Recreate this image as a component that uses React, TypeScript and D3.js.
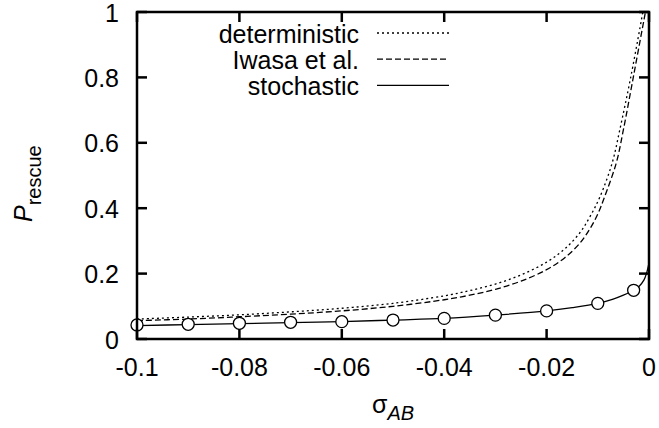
import React from 'react';
import * as d3 from 'd3';

// values
const detSigma = [-0.1, -0.09, -0.08, -0.07, -0.06, -0.05, -0.04, -0.035, -0.03, -0.025, -0.02, -0.0165, -0.0135, -0.0115, -0.0096, -0.0072, -0.0057, -0.0035, -0.0012];
const detP = [0.061, 0.067, 0.074, 0.083, 0.094, 0.109, 0.132, 0.148, 0.168, 0.196, 0.235, 0.275, 0.325, 0.375, 0.434, 0.538, 0.64, 0.806, 1.0];

const iwasaSigma = [-0.1, -0.09, -0.08, -0.07, -0.06, -0.05, -0.04, -0.035, -0.03, -0.025, -0.02, -0.0165, -0.0135, -0.0115, -0.01, -0.0087, -0.0064, -0.005, -0.003, -0.0007];
const iwasaP = [0.056, 0.061, 0.068, 0.076, 0.086, 0.1, 0.12, 0.134, 0.152, 0.177, 0.212, 0.248, 0.293, 0.338, 0.382, 0.434, 0.538, 0.64, 0.806, 1.0];

const stochSigma = [-0.1, -0.09, -0.08, -0.07, -0.06, -0.05, -0.04, -0.03, -0.02, -0.015, -0.01, -0.007, -0.005, -0.003, -0.002, -0.001, -0.0005, 0];
const stochP = [0.041, 0.044, 0.047, 0.05, 0.053, 0.058, 0.063, 0.073, 0.086, 0.096, 0.109, 0.122, 0.134, 0.149, 0.16, 0.18, 0.2, 0.232];

const simSigma = [-0.1, -0.09, -0.08, -0.07, -0.06, -0.05, -0.04, -0.03, -0.02, -0.01, -0.003];
const simP = [0.043, 0.045, 0.048, 0.051, 0.053, 0.058, 0.063, 0.073, 0.086, 0.109, 0.149];

const xTicks = [-0.1, -0.08, -0.06, -0.04, -0.02, 0];
const xTickLabels = ['-0.1', '-0.08', '-0.06', '-0.04', '-0.02', '0'];
const yTicks = [0, 0.2, 0.4, 0.6, 0.8, 1];
const yTickLabels = ['0', '0.2', '0.4', '0.6', '0.8', '1'];

const legendNames = ['deterministic', 'Iwasa et al.', 'stochastic'];
const legendDash = ['2,3', '6,3', null];

const W = 659;
const H = 428;
const left = 137, right = 649, top = 12, bottom = 339;
const font = '"Liberation Sans", Arial, Helvetica, sans-serif';

export default function App() {
  const x = d3.scaleLinear().domain([-0.1, 0]).range([left, right]);
  const y = d3.scaleLinear().domain([0, 1]).range([bottom, top]);

  const line = d3.line<[number, number]>()
    .x(d => x(d[0]))
    .y(d => y(d[1]))
    .curve(d3.curveCatmullRom.alpha(0.5));

  const zip = (a: number[], b: number[]) => a.map((v, i) => [v, b[i]] as [number, number]);

  const series = [
    { pts: zip(detSigma, detP), dash: legendDash[0] },
    { pts: zip(iwasaSigma, iwasaP), dash: legendDash[1] },
    { pts: zip(stochSigma, stochP), dash: legendDash[2] },
  ];

  const tickLen = 10;
  const axisW = 2.5;

  return (
    <svg width={W} height={H} style={{ position: 'absolute', left: 0, top: 0, background: '#fff' }}
      fontFamily={font}>
      <defs>
        <clipPath id="plot">
          <rect x={left} y={top} width={right - left} height={bottom - top} />
        </clipPath>
      </defs>
      <rect width={W} height={H} fill="#fff" />

      {/* curves */}
      <g clipPath="url(#plot)">
        {series.map((s, i) => (
          <path key={i} d={line(s.pts) || ''} fill="none" stroke="#000" strokeWidth={1.3}
            strokeDasharray={s.dash || undefined} />
        ))}
      </g>
      {simSigma.map((s, i) => (
        <circle key={i} cx={x(s)} cy={y(simP[i])} r={6} fill="#fff" stroke="#000" strokeWidth={1.3} />
      ))}

      {/* ticks */}
      <g stroke="#000" strokeWidth={axisW}>
        {xTicks.map((t, i) => (
          <g key={'x' + i}>
            <line x1={x(t)} x2={x(t)} y1={bottom} y2={bottom - tickLen} />
            <line x1={x(t)} x2={x(t)} y1={top} y2={top + tickLen} />
          </g>
        ))}
        {yTicks.map((t, i) => (
          <g key={'y' + i}>
            <line x1={left} x2={left + tickLen} y1={y(t)} y2={y(t)} />
            <line x1={right} x2={right - tickLen} y1={y(t)} y2={y(t)} />
          </g>
        ))}
      </g>
      <rect x={left} y={top} width={right - left} height={bottom - top} fill="none" stroke="#000" strokeWidth={axisW} />

      {/* tick labels */}
      <g fontSize={25} fill="#000">
        {xTicks.map((t, i) => (
          <text key={'xl' + i} x={x(t)} y={376} textAnchor="middle">{xTickLabels[i]}</text>
        ))}
        {yTicks.map((t, i) => (
          <text key={'yl' + i} x={119} y={y(t) + 9.5} textAnchor="end">{yTickLabels[i]}</text>
        ))}
      </g>

      {/* axis titles */}
      <text x={372} y={413} fontSize={25}>
        σ<tspan fontStyle="italic" fontSize={20} dy={7}>AB</tspan>
      </text>
      <text transform="translate(32,222) rotate(-90)" fontSize={25}>
        <tspan fontStyle="italic">P</tspan>
        <tspan fontSize={20} dy={9}>rescue</tspan>
      </text>

      {/* legend */}
      {legendNames.map((n, i) => {
        const ly = 33 + i * 26.2;
        return (
          <g key={'lg' + i}>
            <text x={359} y={ly + 9.5} fontSize={25} textAnchor="end">{n}</text>
            <line x1={377} x2={449} y1={ly} y2={ly} stroke="#000" strokeWidth={1.3}
              strokeDasharray={legendDash[i] || undefined} />
          </g>
        );
      })}
    </svg>
  );
}
